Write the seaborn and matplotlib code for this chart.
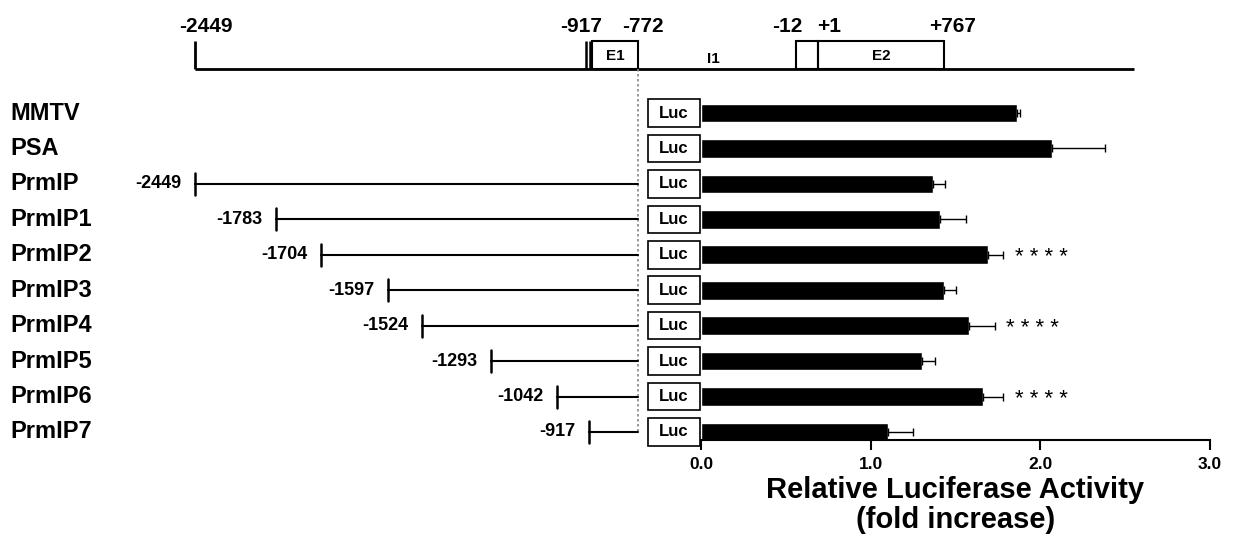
import numpy as np
import pandas as pd
import matplotlib
matplotlib.use("Agg")
import matplotlib.pyplot as plt
import matplotlib.transforms as mtransforms
from matplotlib.patches import Rectangle
import seaborn as sns

# ==============================
# DATA
# ==============================

constructs = ["MMTV", "PSA", "PrmIP", "PrmIP1", "PrmIP2", "PrmIP3",
              "PrmIP4", "PrmIP5", "PrmIP6", "PrmIP7"]
activity = [1.86, 2.07, 1.37, 1.41, 1.69, 1.43, 1.58, 1.30, 1.66, 1.10]
activity_err = [0.02, 0.31, 0.07, 0.15, 0.09, 0.07, 0.15, 0.08, 0.12, 0.15]
significant = [False, False, False, False, True, False, True, False, True, False]

# promoter deletion starts (bp) and their place on the schematic map
start_bp = [None, None, -2449, -1783, -1704, -1597, -1524, -1293, -1042, -917]
start_map = [None, None, 195, 276, 321, 388, 422, 491, 557, 589]

# gene map on top: labels and where they sit on the schematic
map_numbers = ["-2449", "-917", "-772", "-12", "+1", "+767"]
map_number_x = [206, 581, 643, 787, 829, 953]
exons = ["E1", "", "E2"]
exon_left = [592, 796, 818]
exon_right = [638, 818, 944]

xticks = [0.0, 1.0, 2.0, 3.0]

# ==============================
# FIGURE
# ==============================

sns.set_style("white")
plt.rcParams["font.family"] = ["Liberation Sans", "DejaVu Sans"]
plt.rcParams["text.color"] = "black"
plt.rcParams["axes.labelcolor"] = "black"
plt.rcParams["xtick.color"] = "black"

W, H = 1234, 534
fig = plt.figure(figsize=(W / 100, H / 100), dpi=100)

# bar panel
ax = fig.add_axes([701 / W, (H - 440) / H, (1210 - 701) / W, (440 - 92) / H])
df = pd.DataFrame({"construct": constructs, "activity": activity})
sns.barplot(data=df, x="activity", y="construct", color="black",
            saturation=1, width=0.53, ax=ax, orient="h", errorbar=None)
pos = np.arange(len(constructs))
ax.errorbar(activity, pos, xerr=[np.zeros(len(pos)), activity_err],
            fmt="none", ecolor="black", elinewidth=1, capsize=3, capthick=1)
for i, sig in enumerate(significant):
    if sig:
        ax.text(activity[i] + activity_err[i] + 0.07, i + 0.08, "* * * *",
                ha="left", va="center", fontsize=16)

ax.set_xlim(0, 3)
ax.set_ylim(9.226, -0.593)
ax.set_xticks(xticks)
ax.set_xticklabels([f"{t:.1f}" for t in xticks], fontsize=12.5, fontweight="bold")
ax.set_yticks([])
ax.set_ylabel("")
ax.set_xlabel("Relative Luciferase Activity\n(fold increase)", fontsize=21,
              fontweight="bold", labelpad=3, linespacing=1.12)
for s in ["top", "right", "left"]:
    ax.spines[s].set_visible(False)
ax.spines["bottom"].set_linewidth(1.5)
ax.spines["bottom"].set_color("black")
ax.tick_params(axis="x", direction="out", length=7, width=1.5, pad=5,
               bottom=True, colors="black")

# schematic panel over the whole figure
axm = fig.add_axes([0, 0, 1, 1], zorder=-1)
axm.set_xlim(0, W)
axm.set_ylim(H, 0)
axm.axis("off")
row = mtransforms.blended_transform_factory(axm.transData, ax.transData)

# top gene map
axm.hlines(69, 195, 1134, color="black", lw=2)
axm.vlines(195, 41, 69, color="black", lw=2)
axm.vlines([586, 589.5], 41, 69, color="black", lw=1.8)
for name, l, r in zip(exons, exon_left, exon_right):
    axm.add_patch(Rectangle((l, 41), r - l, 28, fill=False, ec="black", lw=1.5))
    if name:
        axm.text((l + r) / 2, 56, name, ha="center", va="center",
                 fontsize=11, fontweight="bold")
axm.text(713, 59, "I1", ha="center", va="center", fontsize=11, fontweight="bold")
for lab, x in zip(map_numbers, map_number_x):
    axm.text(x, 26, lab, ha="center", va="center", fontsize=15, fontweight="bold")

# dotted guide at -772
axm.vlines(638, 69, 433, color="#888888", lw=1.2, linestyles=(0, (1.5, 1.5)))

# row labels, constructs, Luc boxes
for i, name in enumerate(constructs):
    axm.text(10, i, name, transform=row, ha="left", va="center",
             fontsize=17, fontweight="bold")
    if start_map[i] is not None:
        x0 = start_map[i]
        axm.plot([x0, 638], [i, i], transform=row, color="black", lw=1.5)
        axm.plot([x0, x0], [i - 0.31, i + 0.31], transform=row, color="black", lw=1.8)
        axm.text(x0 - 14, i, str(start_bp[i]), transform=row, ha="right",
                 va="center", fontsize=13, fontweight="bold")
    axm.add_patch(Rectangle((648, i - 0.39), 51.5, 0.78, transform=row,
                            fc="white", ec="black", lw=1.2))
    axm.text(673.5, i, "Luc", transform=row, ha="center", va="center",
             fontsize=12, fontweight="bold")

fig.savefig("out.png", dpi=100)
